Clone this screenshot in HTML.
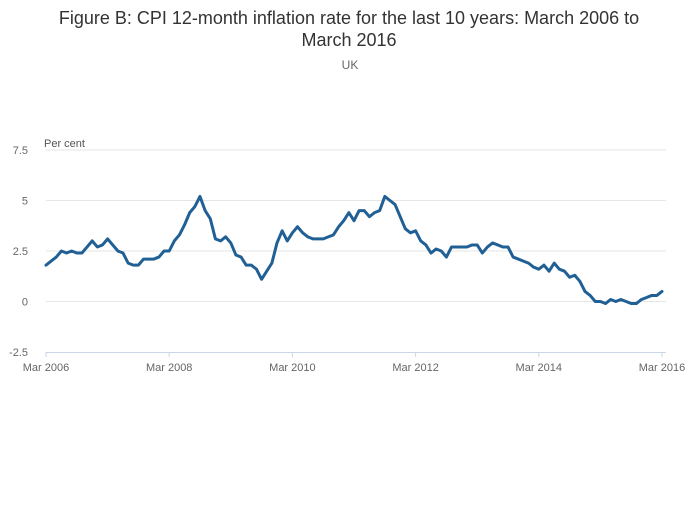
<!DOCTYPE html>
<html><head><meta charset="utf-8">
<style>
html,body{margin:0;padding:0;background:#fff;}
body{width:700px;height:502px;overflow:hidden;font-family:"Liberation Sans",sans-serif;}
svg text{font-family:"Liberation Sans",sans-serif;}
</style></head>
<body>
<svg id="chart" width="700" height="502">
  <text x="349" y="24" text-anchor="middle" font-size="18" fill="#333">Figure B: CPI 12-month inflation rate for the last 10 years: March 2006 to</text>
  <text x="349" y="46" text-anchor="middle" font-size="18" fill="#333">March 2016</text>
  <text x="350" y="69" text-anchor="middle" font-size="12" fill="#666">UK</text>
  <text x="44" y="147" font-size="11" fill="#555">Per cent</text>
  <g id="grid"></g><g id="yticks"></g><g id="xticks"></g><g id="series"></g>
</svg>
<script>
const yTickValues = [-2.5, 0, 2.5, 5, 7.5];
const yTickLabels = ["-2.5", "0", "2.5", "5", "7.5"];
const xTickIndex = [0, 24, 48, 72, 96, 120];
const xTickLabels = ["Mar 2006","Mar 2008","Mar 2010","Mar 2012","Mar 2014","Mar 2016"];
const cpiValues = [
1.8,2.0,2.2,2.5,2.4,2.5,2.4,2.4,2.7,3.0,
2.7,2.8,3.1,2.8,2.5,2.4,1.9,1.8,1.8,2.1,2.1,2.1,
2.2,2.5,2.5,3.0,3.3,3.8,4.4,4.7,5.2,4.5,4.1,3.1,
3.0,3.2,2.9,2.3,2.2,1.8,1.8,1.6,1.1,1.5,1.9,2.9,
3.5,3.0,3.4,3.7,3.4,3.2,3.1,3.1,3.1,3.2,3.3,3.7,
4.0,4.4,4.0,4.5,4.5,4.2,4.4,4.5,5.2,5.0,4.8,4.2,
3.6,3.4,3.5,3.0,2.8,2.4,2.6,2.5,2.2,2.7,2.7,2.7,
2.7,2.8,2.8,2.4,2.7,2.9,2.8,2.7,2.7,2.2,2.1,2.0,
1.9,1.7,1.6,1.8,1.5,1.9,1.6,1.5,1.2,1.3,1.0,0.5,
0.3,0.0,0.0,-0.1,0.1,0.0,0.1,0.0,-0.1,-0.1,0.1,0.2,
0.3,0.3,0.5];
const NS="http://www.w3.org/2000/svg";
const x0=46,x1=662,yTop=150,yBot=352,yMin=-2.5,yMax=7.5;
const xScale=i=>x0+(x1-x0)*i/(cpiValues.length-1);
const yScale=v=>yBot-(v-yMin)/(yMax-yMin)*(yBot-yTop);
function mk(tag,attrs,parent){const e=document.createElementNS(NS,tag);for(const k in attrs)e.setAttribute(k,attrs[k]);parent.appendChild(e);return e;}
const grid=document.getElementById('grid'),yt=document.getElementById('yticks'),xt=document.getElementById('xticks'),ser=document.getElementById('series');
yTickValues.forEach((v,k)=>{
  const y=yScale(v);
  if(v!==yMin){const g=mk('line',{x1:x0,x2:x1+4,y1:y,y2:y,stroke:'#e6e6e6','stroke-width':1},grid);
  
  }
  const t=mk('text',{x:28,y:y+4,'text-anchor':'end','font-size':11,fill:'#666'},yt);
  t.textContent=yTickLabels[k];
  
  
});
const ax=mk('line',{x1:x0,x2:x1+4,y1:yBot+0.5,y2:yBot+0.5,stroke:'#c9d6e8','stroke-width':1},grid);


xTickIndex.forEach((i,k)=>{
  const x=xScale(i);
  const tk=mk('line',{x1:x,x2:x,y1:yBot,y2:yBot+5,stroke:'#c9d6e8'},xt);
  
  
  const t=mk('text',{x:x,y:yBot+19,'text-anchor':'middle','font-size':11,fill:'#666'},xt);
  t.textContent=xTickLabels[k];
  
  
});
const d=cpiValues.map((v,i)=>(i?'L':'M')+xScale(i).toFixed(2)+','+yScale(v).toFixed(2)).join('');
const p=mk('path',{d:d,fill:'none',stroke:'#206095','stroke-width':3,'stroke-linejoin':'round','stroke-linecap':'round'},ser);


</script>
</body></html>
